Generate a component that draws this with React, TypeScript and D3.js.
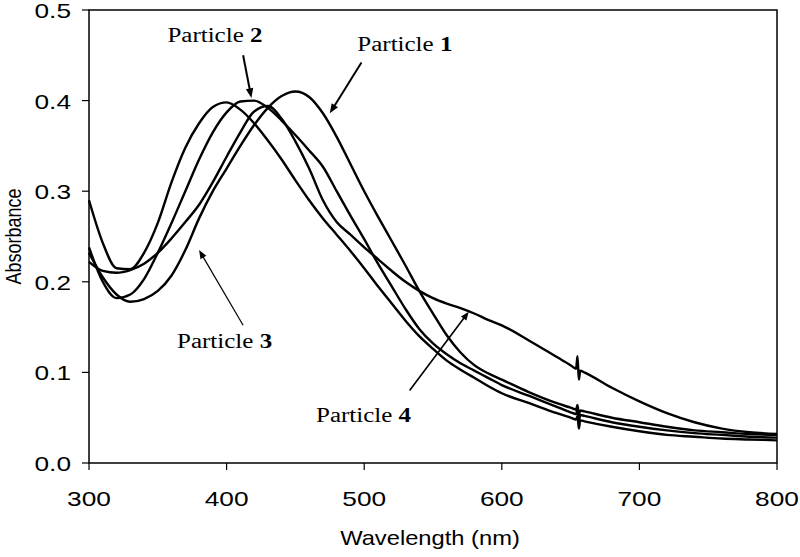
import React from "react";
import * as d3 from "d3";

const wavelengths = [300,310,320,330,340,350,360,370,380,390,400,410,420,430,440,450,460,470,480,490,500,510,520,530,540,550,560,570,580,590,600,620,640,650,654,655,656,657,660,680,700,720,740,760,780,800];

const particle1 = [0.232,0.205,0.186,0.178,0.181,0.19,0.207,0.235,0.27,0.3,0.325,0.35,0.373,0.392,0.405,0.41,0.404,0.386,0.36,0.33,0.3,0.272,0.245,0.218,0.19,0.165,0.141,0.122,0.108,0.099,0.092,0.078,0.066,0.061,0.059,0.064,0.053,0.058,0.057,0.05,0.045,0.04,0.036,0.034,0.032,0.031];
const particle2 = [0.238,0.2,0.182,0.186,0.203,0.232,0.265,0.3,0.335,0.365,0.387,0.399,0.4,0.392,0.378,0.362,0.345,0.327,0.3,0.273,0.247,0.22,0.195,0.17,0.148,0.132,0.12,0.11,0.102,0.094,0.086,0.074,0.062,0.056,0.054,0.06,0.046,0.053,0.052,0.045,0.04,0.036,0.033,0.031,0.029,0.028];
const particle3 = [0.29,0.243,0.215,0.214,0.232,0.265,0.31,0.348,0.375,0.393,0.398,0.39,0.375,0.356,0.335,0.312,0.29,0.27,0.252,0.234,0.215,0.195,0.176,0.157,0.14,0.126,0.113,0.103,0.094,0.085,0.077,0.066,0.055,0.05,0.048,0.052,0.038,0.047,0.046,0.04,0.035,0.031,0.029,0.027,0.026,0.025];
const particle4 = [0.222,0.212,0.21,0.213,0.22,0.232,0.248,0.266,0.285,0.31,0.338,0.365,0.388,0.394,0.38,0.355,0.325,0.29,0.266,0.252,0.238,0.225,0.212,0.2,0.19,0.182,0.176,0.171,0.165,0.158,0.152,0.135,0.117,0.108,0.104,0.118,0.092,0.102,0.1,0.083,0.068,0.055,0.045,0.038,0.034,0.032];

const seriesList = [particle1, particle2, particle3, particle4];

const xTicks = [300, 400, 500, 600, 700, 800];
const yTicks = [0, 0.1, 0.2, 0.3, 0.4, 0.5];

// annotations: label number, text anchor (data coords), arrow from/to (data coords)
const labelNums = ["2", "1", "3", "4"];
const labelPos: [number, number][] = [[357, 0.465], [495, 0.455], [364, 0.127], [465, 0.045]];
const arrowFrom: [number, number][] = [[412, 0.450], [498, 0.442], [412, 0.152], [533, 0.08]];
const arrowTo: [number, number][] = [[418, 0.403], [475, 0.386], [380, 0.235], [576, 0.167]];
const arrowWidth = [2, 2, 1.2, 1.6];

const W = 800, H = 557;
const SX = 1.25;

export default function App() {
  const x = d3.scaleLinear().domain([300, 800]).range([89, 777]);
  const y = d3.scaleLinear().domain([0, 0.5]).range([463, 10]);

  const line = d3
    .line<number>()
    .x((_, i) => x(wavelengths[i]))
    .y((d) => y(d))
    .curve(d3.curveMonotoneX);

  const sans = "'Liberation Sans', Arial, Helvetica, sans-serif";
  const serif = "'Liberation Serif', 'Times New Roman', serif";

  const arrowHead = (fx: number, fy: number, tx: number, ty: number, size: number) => {
    const ang = Math.atan2(ty - fy, tx - fx);
    const len = size * 1.9;
    const half = size * 0.75;
    const bx = tx - len * Math.cos(ang);
    const by = ty - len * Math.sin(ang);
    const px = -Math.sin(ang) * half;
    const py = Math.cos(ang) * half;
    return `M${tx},${ty}L${bx + px},${by + py}L${bx - px},${by - py}Z`;
  };

  return (
    <div style={{ position: "absolute", left: 0, top: 0, width: W, height: H, background: "#fff" }}>
      <svg width={W} height={H} style={{ display: "block" }}>
        <rect x={0} y={0} width={W} height={H} fill="#fff" />
        {/* frame */}
        <rect x={x(300)} y={y(0.5)} width={x(800) - x(300)} height={y(0) - y(0.5)} fill="none" stroke="#000" strokeWidth={1.5} />
        {/* y ticks */}
        {yTicks.map((t) => (
          <g key={"y" + t}>
            <line x1={x(300) - 7} x2={x(300)} y1={y(t)} y2={y(t)} stroke="#000" strokeWidth={1.2} />
            <text
              transform={`translate(${x(300) - 18},${y(t) + 8}) scale(${SX},1)`}
              textAnchor="end"
              fontFamily={sans}
              fontSize={21}
              fill="#000"
            >
              {d3.format(".1f")(t)}
            </text>
          </g>
        ))}
        {/* x ticks */}
        {xTicks.map((t) => (
          <g key={"x" + t}>
            <line x1={x(t)} x2={x(t)} y1={y(0)} y2={y(0) + 7} stroke="#000" strokeWidth={1.2} />
            <text
              transform={`translate(${x(t)},${y(0) + 43}) scale(${SX},1)`}
              textAnchor="middle"
              fontFamily={sans}
              fontSize={21}
              fill="#000"
            >
              {t}
            </text>
          </g>
        ))}
        <text
          transform={`translate(${(x(300) + x(800)) / 2 - 3},545) scale(1.13,1)`}
          textAnchor="middle"
          fontFamily={sans}
          fontSize={21}
          fill="#000"
        >
          Wavelength (nm)
        </text>
        <text
          transform={`translate(21,${(y(0) + y(0.5)) / 2}) rotate(-90) scale(1,${SX})`}
          textAnchor="middle"
          fontFamily={sans}
          fontSize={18}
          fill="#000"
        >
          Absorbance
        </text>
        {/* curves */}
        {seriesList.map((s, i) => (
          <path key={"s" + i} d={line(s) || ""} fill="none" stroke="#000" strokeWidth={2.4} strokeLinejoin="round" />
        ))}
        {/* annotations */}
        {labelNums.map((n, i) => {
          const fx = x(arrowFrom[i][0]);
          const fy = y(arrowFrom[i][1]);
          const tx = x(arrowTo[i][0]);
          const ty = y(arrowTo[i][1]);
          const sz = arrowWidth[i] >= 2 ? 5 : 4.5;
          const ang = Math.atan2(ty - fy, tx - fx);
          const ex = tx - sz * 1.5 * Math.cos(ang);
          const ey = ty - sz * 1.5 * Math.sin(ang);
          return (
            <g key={"a" + i}>
              <text
                transform={`translate(${x(labelPos[i][0])},${y(labelPos[i][1])}) scale(${SX},1)`}
                fontFamily={serif}
                fontSize={20}
                fill="#000"
              >
                Particle <tspan fontWeight="bold">{n}</tspan>
              </text>
              <line x1={fx} y1={fy} x2={ex} y2={ey} stroke="#000" strokeWidth={arrowWidth[i]} />
              <path d={arrowHead(fx, fy, tx, ty, sz)} fill="#000" />
            </g>
          );
        })}
      </svg>
    </div>
  );
}
